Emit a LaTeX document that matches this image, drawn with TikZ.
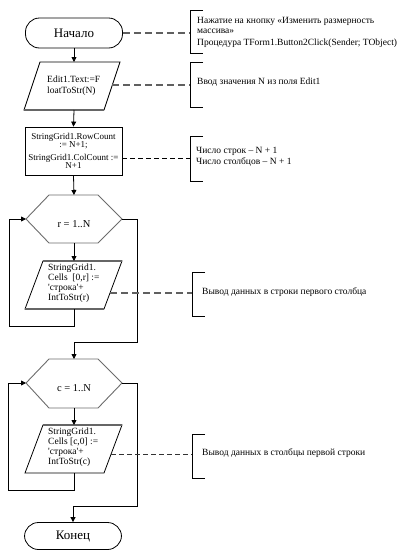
\documentclass[tikz,border=0pt]{standalone}
\usepackage{fontspec}
\setmainfont{Liberation Serif}
\newfontfamily\timesf{Liberation Serif}
\usetikzlibrary{arrows.meta}
\begin{document}
\begin{tikzpicture}[x=1pt,y=-1pt,
  font=\timesf\fontsize{9.5}{10}\selectfont,
  term/.style={draw, line width=0.8pt, rounded corners=14pt, minimum width=97pt, minimum height=30pt, inner sep=0pt, font=\timesf\fontsize{13}{14}\selectfont},
  procbox/.style={draw, line width=0.8pt, minimum width=97pt, minimum height=48pt, inner sep=0pt, align=center, font=\timesf\fontsize{9}{8.5}\selectfont},
  shapeline/.style={line width=0.8pt, line join=miter},
  heavyedge/.style={draw=gray!80!black, line width=1.6pt},
  hexline/.style={draw=gray!85!black, line width=0.9pt},
  flowline/.style={line width=0.8pt},
  arr/.style={flowline, -{Triangle[length=5pt,width=5pt]}},
  dashlink/.style={draw=gray!75!black, line width=1.1pt, dash pattern=on 7pt off 4pt},
  dashlinkb/.style={draw=black, line width=0.8pt, dash pattern=on 5pt off 3pt},
  bracketline/.style={line width=0.9pt},
  notetext/.style={anchor=west, inner sep=0pt, align=left},
  txt/.style={inner sep=0pt, align=left}]
\useasboundingbox (0,0) rectangle (401,557);

% ---------- start ----------
\node[term] (start) at (74,33) {Начало};

% ---------- input parallelogram ----------
\coordinate (p1tl) at (40,62);
\coordinate (p1tr) at (120,62);
\coordinate (p1br) at (104,110);
\coordinate (p1bl) at (24,110);
\coordinate (p1top) at (74,62);
\coordinate (p1bot) at (74,110);
\coordinate (p1east) at (112,85);
\draw[shapeline] (p1tl) -- (p1tr) -- (p1br) -- (p1bl) -- cycle;
\draw[heavyedge] (p1bl) -- (p1br);
\node[txt, anchor=west] (p1) at (47,85.5) {Edit1.Text:=F\\[1pt]loatToStr(N)};

% ---------- process box ----------
\node[procbox] (box) at (73.5,151) {StringGrid1.RowCount\\:= N+1;\\[4pt]StringGrid1.ColCount :=\\N+1};
\coordinate (boxeast) at (122,158);

% ---------- loop 1 ----------
\coordinate (h1w) at (26,219);
\coordinate (h1nw) at (49,195);
\coordinate (h1ne) at (98,195);
\coordinate (h1e) at (122,219);
\coordinate (h1se) at (98,243);
\coordinate (h1sw) at (49,243);
\coordinate (h1top) at (74,195);
\coordinate (h1bot) at (74,243);
\draw[hexline] (h1w) -- (h1nw) -- (h1ne) -- (h1e) -- (h1se) -- (h1sw) -- cycle;
\node[inner sep=0pt, font=\timesf\fontsize{10.5}{11}\selectfont] (h1) at (74,224) {r = 1..N};

\coordinate (b1tl) at (43,261);
\coordinate (b1tr) at (122,261);
\coordinate (b1br) at (104,309);
\coordinate (b1bl) at (25,309);
\coordinate (b1top) at (74,261);
\coordinate (b1bot) at (74,309);
\coordinate (b1east) at (110,293);
\draw[shapeline] (b1tl) -- (b1tr) -- (b1br) -- (b1bl) -- cycle;
\draw[heavyedge] (b1tl) -- (b1tr);
\draw[heavyedge] (b1bl) -- (b1br);
\node[txt, anchor=west] (b1) at (48,283) {StringGrid1.\\Cells~~[0,r] :=\\'строка'+\\IntToStr(r)};

% ---------- loop 2 ----------
\coordinate (h2w) at (26,383);
\coordinate (h2nw) at (49,359);
\coordinate (h2ne) at (98,359);
\coordinate (h2e) at (122,383);
\coordinate (h2se) at (98,408);
\coordinate (h2sw) at (49,408);
\coordinate (h2top) at (74,359);
\coordinate (h2bot) at (74,408);
\draw[hexline] (h2w) -- (h2nw) -- (h2ne) -- (h2e) -- (h2se) -- (h2sw) -- cycle;
\node[inner sep=0pt, font=\timesf\fontsize{10.5}{11}\selectfont] (h2) at (74,388) {c = 1..N};

\coordinate (b2tl) at (43,425);
\coordinate (b2tr) at (122,425);
\coordinate (b2br) at (104,473);
\coordinate (b2bl) at (25,473);
\coordinate (b2top) at (74,425);
\coordinate (b2bot) at (74,473);
\coordinate (b2east) at (111,454);
\draw[shapeline] (b2tl) -- (b2tr) -- (b2br) -- (b2bl) -- cycle;
\draw[heavyedge] (b2tl) -- (b2tr);
\node[txt, anchor=west] (b2) at (48,447) {StringGrid1.\\Cells~[c,0] :=\\'строка'+\\IntToStr(c)};

% ---------- end ----------
\node[term, minimum height=27pt] (finish) at (73,536) {Конец};

% ---------- flow connectors ----------
\draw[arr] (start.south) -- (p1top);
\draw[arr] (p1bot) -- (box.north);
\draw[arr] (box.south) -- (h1top);
\draw[arr] (h1bot) -- (b1top);
\coordinate (l1a) at (74,326);
\coordinate (l1b) at (9,326);
\coordinate (l1c) at (9,219);
\draw[arr] (b1bot) -- (l1a) -- (l1b) -- (l1c) -- (h1w);
\coordinate (e1a) at (137,219);
\coordinate (e1b) at (137,342);
\coordinate (e1c) at (74,342);
\draw[arr] (h1e) -- (e1a) -- (e1b) -- (e1c) -- (h2top);
\draw[arr] (h2bot) -- (b2top);
\coordinate (l2a) at (74,490);
\coordinate (l2b) at (8,490);
\coordinate (l2c) at (8,383);
\draw[arr] (b2bot) -- (l2a) -- (l2b) -- (l2c) -- (h2w);
\coordinate (e2a) at (137,383);
\coordinate (e2b) at (137,506);
\coordinate (e2c) at (73,506);
\draw[arr] (h2e) -- (e2a) -- (e2b) -- (e2c) -- (finish.north);

% ---------- notes ----------
\coordinate (n1t) at (203,10);
\coordinate (n1m) at (190,33);
\coordinate (n1b) at (203,53);
\draw[bracketline] (n1t) -- (190,10) -- (190,53) -- (n1b);
\node[notetext] (n1) at (197,25) {Нажатие на кнопку «Изменить размерность\\массива»};
\node[notetext] (n1b2) at (197,43) {Процедура TForm1.Button2Click(Sender; TObject)};
\draw[dashlink] (start.east) -- (n1m);

\coordinate (n2t) at (203,62);
\coordinate (n2m) at (190,85);
\coordinate (n2b) at (203,107);
\draw[bracketline] (n2t) -- (190,62) -- (190,107) -- (n2b);
\node[notetext] (n2) at (197,82) {Ввод значения N из поля Edit1};
\draw[dashlink] (p1east) -- (n2m);

\coordinate (n3t) at (203,136);
\coordinate (n3m) at (190,158);
\coordinate (n3b) at (203,181);
\draw[bracketline] (n3t) -- (190,136) -- (190,181) -- (n3b);
\node[notetext] (n3) at (196,156.5) {Число строк – N + 1\\[1pt]Число столбцов – N + 1};
\draw[dashlinkb] (boxeast) -- (n3m);

\coordinate (n4t) at (205,272);
\coordinate (n4m) at (192,293);
\coordinate (n4b) at (205,316);
\draw[bracketline] (n4t) -- (192,272) -- (192,316) -- (n4b);
\node[notetext] (n4) at (202,292) {Вывод данных в строки первого столбца};
\draw[dashlink] (b1east) -- (n4m);

\coordinate (n5t) at (205,434);
\coordinate (n5m) at (192,454);
\coordinate (n5b) at (205,478);
\draw[bracketline] (n5t) -- (192,434) -- (192,478) -- (n5b);
\node[notetext] (n5) at (202,453) {Вывод данных в столбцы первой строки};
\draw[dashlinkb, draw=black!80] (b2east) -- (n5m);
\end{tikzpicture}
\end{document}
